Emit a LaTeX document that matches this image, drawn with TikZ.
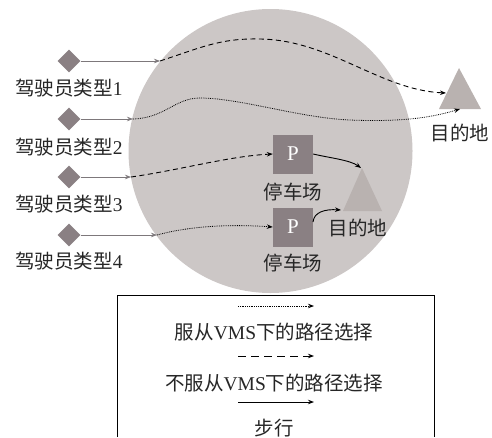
\documentclass[tikz,border=0pt]{standalone}
\usepackage{fontspec}
\setmainfont{Liberation Serif}
\newfontfamily\cjk{Noto Sans CJK SC}
\usetikzlibrary{shapes.geometric,arrows.meta}
\definecolor{cgray}{RGB}{204,199,198}
\definecolor{tgray}{RGB}{185,178,176}
\definecolor{dgray}{RGB}{138,128,131}
\definecolor{agray}{RGB}{125,120,123}
\tikzset{
  drv/.style={diamond, fill=dgray, minimum size=23pt, inner sep=0pt},
  pbox/.style={rectangle, fill=dgray, minimum width=40pt, minimum height=39pt, inner sep=0pt, text=white, font=\fontsize{21}{21}\selectfont},
  lbl/.style={inner sep=0pt, font=\fontsize{19.5}{20}\selectfont, text=black!85},
  feed/.style={agray, line width=0.7pt, -{Stealth[length=6pt,width=4.5pt]}},
  comply/.style={black, line width=0.8pt, densely dotted, -{Stealth[length=6pt,width=4.5pt]}},
  defy/.style={black, line width=0.9pt, dash pattern=on 5pt off 3.5pt, -{Stealth[length=6pt,width=4.5pt]}},
  walk/.style={black, line width=0.9pt, -{Stealth[length=6pt,width=4.5pt]}}
}
\begin{document}
\begin{tikzpicture}[x=1pt,y=-1pt]
\useasboundingbox (0,0) rectangle (492,437);
% region
\node[circle, fill=cgray, minimum size=284pt, inner sep=0pt] (region) at (270.5,151) {};
% drivers
\foreach \i/\y in {1/61,2/119,3/177,4/235}{
  \node[drv] (d\i) at (69,\y) {};
}
\node[lbl] (l1) at (69,88) {{\cjk 驾驶员类型}1};
\node[lbl] (l2) at (69,147) {{\cjk 驾驶员类型}2};
\node[lbl] (l3) at (69,204) {{\cjk 驾驶员类型}3};
\node[lbl] (l4) at (69,261) {{\cjk 驾驶员类型}4};
% entry points
\coordinate (e1) at (160,61);
\coordinate (e2) at (133,119);
\coordinate (e3) at (131,177);
\coordinate (e4) at (157,235);
\foreach \i in {1,2,3,4}{ \draw[feed] (d\i.east) -- (e\i); }
% destinations
\fill[tgray] (439,109) -- (459,68) -- (481,109) -- cycle;
\coordinate (t1) at (459,68);
\coordinate (t1w) at (446,93);
\coordinate (t1b) at (460,109);
\node[lbl] (dl1) at (460,133) {\cjk 目的地};
\fill[tgray] (343,211) -- (362,168) -- (382,211) -- cycle;
\coordinate (t2) at (361,168);
\coordinate (t2w) at (341,210);
\node[lbl] (dl2) at (358,228) {\cjk 目的地};
% parking
\node[pbox] (p1) at (293,154) {P};
\node[lbl] (pl1) at (293,192) {\cjk 停车场};
\node[pbox] (p2) at (293,227) {P};
\node[lbl] (pl2) at (293,263) {\cjk 停车场};
% routes
\draw[defy] (e1) .. controls (200,48) and (220,38) .. (260,39)
  .. controls (330,40) and (380,90) .. (t1w);
\draw[comply] (e2) .. controls (165,118) and (175,98) .. (200,98)
  .. controls (240,98) and (300,118) .. (350,120)
  .. controls (400,122) and (430,118) .. (t1b);
\draw[defy] (e3) .. controls (180,170) and (230,156) .. (p1.west);
\draw[comply] (e4) .. controls (190,226) and (230,224) .. (p2.west);
\draw[walk] (p1.east) .. controls (330,158) and (350,160) .. (t2);
\draw[walk] (313,222) .. controls (314,212) and (325,209) .. (t2w);
% legend
\draw[black, line width=0.7pt] (117,437) -- (117,295.5) -- (434,295.5) -- (434,437);
\coordinate (a1s) at (238,306); \coordinate (a1e) at (314,306);
\coordinate (a2s) at (238,356); \coordinate (a2e) at (314,356);
\coordinate (a3s) at (238,402); \coordinate (a3e) at (314,402);
\draw[comply] (a1s) -- (a1e);
\draw[black, line width=0.9pt, dash pattern=on 8pt off 5pt, -{Stealth[length=6pt,width=4.5pt]}] (a2s) -- (a2e);
\draw[walk] (a3s) -- (a3e);
\node[lbl] (t1l) at (274,332) {{\cjk 服从}VMS{\cjk 下的路径选择}};
\node[lbl] (t2l) at (274,383) {{\cjk 不服从}VMS{\cjk 下的路径选择}};
\node[lbl] (t3l) at (274,428) {\cjk 步行};
\end{tikzpicture}
\end{document}
